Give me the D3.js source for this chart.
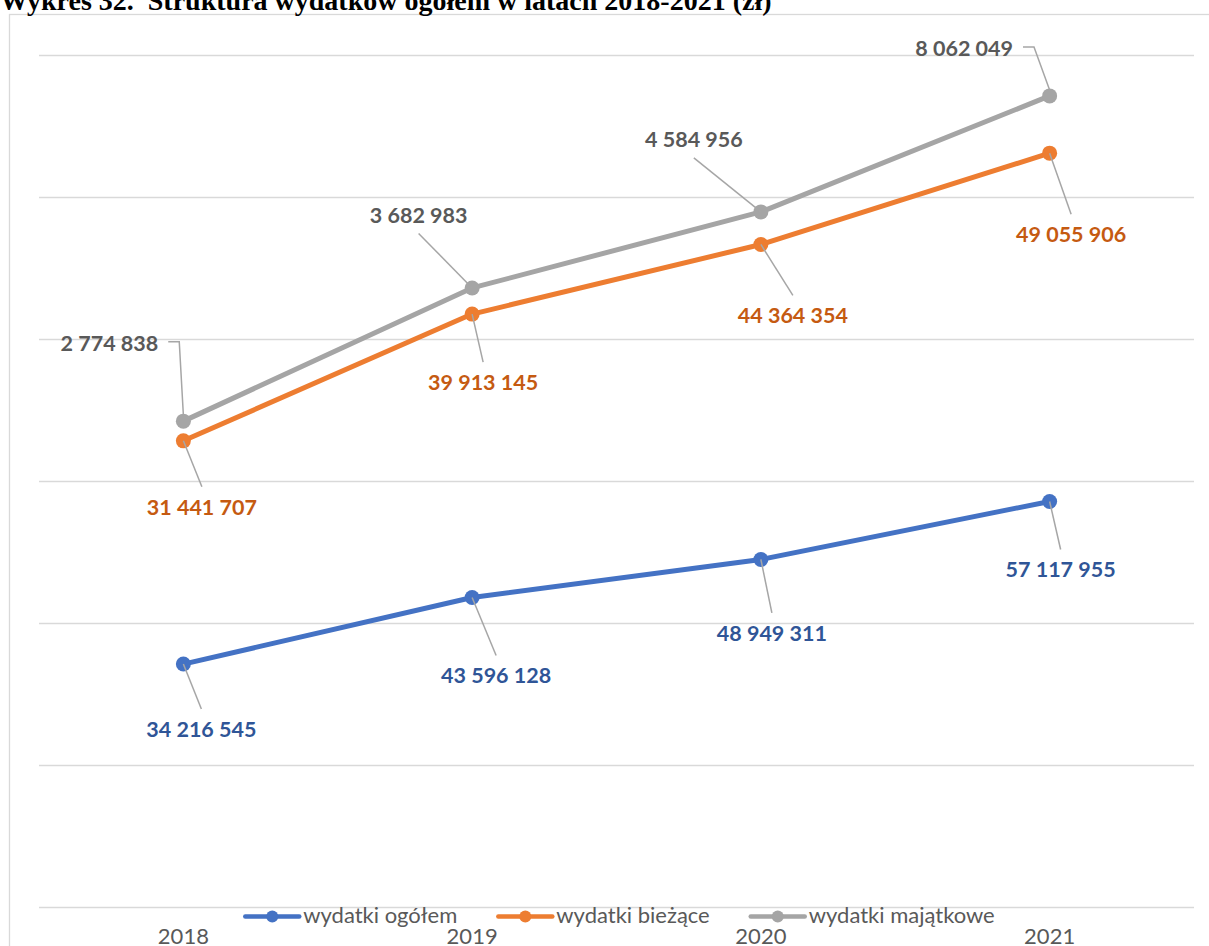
<!DOCTYPE html>
<html><head><meta charset="utf-8">
<script src="https://cdn.jsdelivr.net/npm/d3@7"></script>
<style>body{margin:0;background:#fff;} svg{display:block;}</style>
</head><body>
<svg id="chart" width="1209" height="946"></svg>
<script>
// ---- data ----
const years = ["2018", "2019", "2020", "2021"];
const seriesNames = ["wydatki ogółem", "wydatki bieżące", "wydatki majątkowe"];
const ogolem = [34216545, 43596128, 48949311, 57117955];
const biezace = [31441707, 39913145, 44364354, 49055906];
const majatkowe = [2774838, 3682983, 4584956, 8062049];
const yTicks = [0, 20000000, 40000000, 60000000, 80000000, 100000000, 120000000];
const titleText = "Wykres 32.  Struktura wydatków ogółem w latach 2018-2021 (zł)";

// ---- styles / layout ----
const colors = ["#4472C4", "#ED7D31", "#A5A5A5"];
const labelColors = ["#2F5597", "#C55A11", "#595959"];
const fontUI = "Lato, 'Open Sans', sans-serif";
const plot = {left: 39, right: 1194, top: 55, bottom: 907};
// label placement relative to the point: [dx of label centre, dy of baseline, leader type]
const labelLayout = [
  [[18, 73, "below"], [24, 86, "below"], [11, 81.5, "below"], [11, 76, "below"]],
  [[18.5, 74, "below"], [11, 76, "below"], [32, 79, "below"], [21.5, 89, "below"]],
  [[-74, -70.5, "elbow"], [-53.5, -65, "above"], [-67, -64.5, "above"], [-85.5, -40, "elbow"]]
];

const svg = d3.select("#chart");

// chart border
svg.append("rect").attr("x", 9.5).attr("y", 14.5).attr("width", 1220).attr("height", 950)
  .attr("fill", "#fff").attr("stroke", "#D9D9D9").attr("stroke-width", 1.3);

// title (partly clipped at the top, as in the reference)
svg.append("text").attr("x", 0).attr("y", 9.5)
  .attr("font-family", "'Liberation Serif', 'Times New Roman', serif")
  .attr("font-weight", "bold").attr("font-size", 28).attr("fill", "#000")
  .style("white-space", "pre")
  .text(titleText);

const x = d3.scaleBand().domain(years).range([plot.left, plot.right]);
const cx = d => x(d) + x.bandwidth() / 2;
const y = d3.scaleLinear().domain([0, 120000000]).range([plot.bottom, plot.top]);

// gridlines
const grid = svg.append("g").attr("transform", `translate(${plot.left},0)`)
  .call(d3.axisLeft(y).tickValues(yTicks).tickSize(-(plot.right - plot.left)).tickFormat(""));
grid.select(".domain").remove();
grid.selectAll(".tick line").attr("stroke", "#D9D9D9").attr("stroke-width", 1.5);

// x axis labels
const xa = svg.append("g").attr("transform", `translate(0,${plot.bottom})`)
  .call(d3.axisBottom(x).tickSize(0).tickPadding(0));
xa.select(".domain").remove();
xa.selectAll("text").attr("font-family", fontUI).attr("font-size", 22).attr("fill", "#595959")
  .attr("dy", null).attr("y", 37);

// stacked data
const rows = years.map((yr, i) => ({year: yr, a: ogolem[i], b: biezace[i], c: majatkowe[i]}));
const stack = d3.stack().keys(["a", "b", "c"]);
const stacked = stack(rows);
const rawVals = [ogolem, biezace, majatkowe];
const fmt = v => d3.format(",")(v).replace(/,/g, " ");

const line = d3.line().x(d => cx(d.data.year)).y(d => y(d[1]));

const gLines = svg.append("g");
const gLeaders = svg.append("g");
const gLabels = svg.append("g");

stacked.forEach((s, si) => {
  gLines.append("path").datum(s).attr("d", line).attr("fill", "none")
    .attr("stroke", colors[si]).attr("stroke-width", 5).attr("stroke-linejoin", "round");
  gLines.selectAll(null).data(s).enter().append("circle")
    .attr("cx", d => cx(d.data.year)).attr("cy", d => y(d[1])).attr("r", 7.5)
    .attr("fill", colors[si]);
});

stacked.forEach((s, si) => {
  s.forEach((d, i) => {
    const px = cx(d.data.year), py = y(d[1]);
    const [dx, dy, type] = labelLayout[si][i];
    const lx = px + dx, ly = py + dy;
    const t = gLabels.append("text").attr("x", lx).attr("y", ly).attr("text-anchor", "middle")
      .attr("font-family", fontUI).attr("font-weight", "bold").attr("font-size", 21.5)
      .attr("fill", labelColors[si]).text(fmt(rawVals[si][i]));
    const w = t.node().getComputedTextLength();
    let pts;
    if (type === "below") pts = [[px, py], [lx, ly - 28]];
    else if (type === "above") pts = [[lx, ly + 10.5], [px, py]];
    else pts = [[lx + w / 2 + 10, ly - 9], [lx + w / 2 + 21, ly - 9], [px, py - 6]];
    gLeaders.append("path").attr("d", d3.line()(pts)).attr("fill", "none")
      .attr("stroke", "#A6A6A6").attr("stroke-width", 1.5);
  });
});

// legend
const legend = svg.append("g");
const items = seriesNames.map((n, i) => {
  const g = legend.append("g");
  g.append("line").attr("x1", 0).attr("x2", 54).attr("y1", 0).attr("y2", 0)
    .attr("stroke", colors[i]).attr("stroke-width", 4.5).attr("stroke-linecap", "round");
  g.append("circle").attr("cx", 27).attr("cy", 0).attr("r", 6).attr("fill", colors[i]);
  const t = g.append("text").attr("x", 58).attr("y", 6.5).attr("font-family", fontUI)
    .attr("font-size", 22).attr("fill", "#595959").text(n);
  return {g, w: 58 + t.node().getComputedTextLength()};
});
const gap = 41;
const total = d3.sum(items, d => d.w) + gap * (items.length - 1);
let lx0 = 620 - total / 2;
items.forEach(it => { it.g.attr("transform", `translate(${lx0},916.5)`); lx0 += it.w + gap; });
</script>
</body></html>
